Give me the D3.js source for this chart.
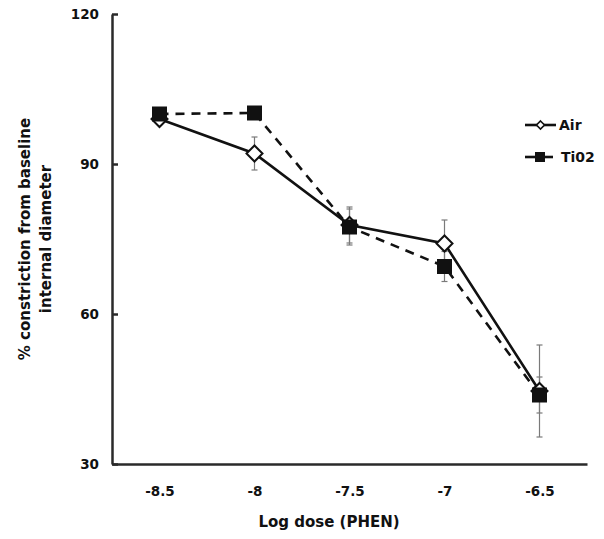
<!DOCTYPE html>
<html><head><meta charset="utf-8">
<script src="https://cdn.jsdelivr.net/npm/d3@7/dist/d3.min.js"></script>
<style>
body{margin:0;background:#fff;}
svg{display:block;font-family:"DejaVu Sans",sans-serif;font-weight:bold;}
</style></head>
<body><svg id="c" width="604" height="539"></svg>
<script>
const doses = ["-8.5","-8","-7.5","-7","-6.5"];
const airMean = [99.0, 92.1, 77.8, 74.1, 44.6];
const airErr  = [0.0, 3.3, 3.6, 4.7, 9.2];
const tiMean  = [100.0, 100.2, 77.4, 69.5, 43.8];
const tiErr   = [0.0, 0.0, 3.6, 3.0, 3.6];
const yTicks  = [30, 60, 90, 120];
const seriesNames = ["Air", "Ti02"];

const svg = d3.select("#c");
const x = d3.scalePoint().domain(doses).range([112, 587]).padding(0.5);
const y = d3.scaleLinear().domain([30, 120]).range([464, 14]);
const axisColor = "#2a2a2a";

// axes
const gy = svg.append("g").attr("transform", "translate(112,0)")
  .call(d3.axisLeft(y).tickValues(yTicks).tickSizeInner(-6).tickSizeOuter(0).tickPadding(13));
gy.select(".domain").attr("stroke", axisColor).attr("stroke-width", 2.5);
gy.selectAll(".tick line").attr("stroke", axisColor).attr("stroke-width", 2.5);
gy.selectAll(".tick text").attr("font-size", 13.5).attr("font-family", "DejaVu Sans").attr("font-weight", "bold").attr("fill", "#111");

const gx = svg.append("g").attr("transform", "translate(0,464)")
  .call(d3.axisBottom(x).tickSize(0).tickPadding(22));
gx.select(".domain").attr("stroke", axisColor).attr("stroke-width", 2.5);
gx.selectAll(".tick text").attr("font-size", 13.5).attr("font-family", "DejaVu Sans").attr("font-weight", "bold").attr("fill", "#111");

// axis titles
svg.append("text").attr("x", 329).attr("y", 527).attr("text-anchor", "middle")
  .attr("font-size", 15).attr("fill", "#111").text("Log dose (PHEN)");
const yt = svg.append("text").attr("transform", "translate(30,239) rotate(-90)")
  .attr("text-anchor", "middle").attr("font-size", 15).attr("fill", "#111");
yt.append("tspan").attr("x", 0).attr("y", 0).text("% constriction from baseline");
yt.append("tspan").attr("x", 0).attr("y", 21).text("internal diameter");

// error bars
function errBars(mean, err) {
  const g = svg.append("g").attr("stroke", "#7a7a7a").attr("stroke-width", 1.2);
  doses.forEach((d, i) => {
    if (!err[i]) return;
    const cx = x(d), y1 = y(mean[i] + err[i]), y2 = y(mean[i] - err[i]);
    g.append("line").attr("x1", cx).attr("x2", cx).attr("y1", y1).attr("y2", y2);
    g.append("line").attr("x1", cx - 3).attr("x2", cx + 3).attr("y1", y1).attr("y2", y1);
    g.append("line").attr("x1", cx - 3).attr("x2", cx + 3).attr("y1", y2).attr("y2", y2);
  });
}
errBars(airMean, airErr);
errBars(tiMean, tiErr);

const line = d3.line().x((v, i) => x(doses[i])).y(v => y(v));
svg.append("path").datum(tiMean).attr("d", line).attr("fill", "none")
  .attr("stroke", "#111").attr("stroke-width", 2.6).attr("stroke-dasharray", "9,7");
svg.append("path").datum(airMean).attr("d", line).attr("fill", "none")
  .attr("stroke", "#111").attr("stroke-width", 2.6);

const diamond = r => `M0,${-r}L${r},0L0,${r}L${-r},0Z`;
svg.append("g").selectAll("path").data(airMean).join("path")
  .attr("transform", (v, i) => `translate(${x(doses[i])},${y(v)})`)
  .attr("d", diamond(8)).attr("fill", "#fff").attr("stroke", "#111").attr("stroke-width", 2);
svg.append("g").selectAll("rect").data(tiMean).join("rect")
  .attr("x", (v, i) => x(doses[i]) - 7.5).attr("y", v => y(v) - 7.5)
  .attr("width", 15).attr("height", 15).attr("fill", "#111");

// legend
const lg = svg.append("g");
const legY = [125, 157];
lg.append("line").attr("x1", 525).attr("x2", 556).attr("y1", legY[0]).attr("y2", legY[0]).attr("stroke", "#111").attr("stroke-width", 2.6);
lg.append("path").attr("transform", `translate(540.5,${legY[0]})`).attr("d", diamond(4)).attr("fill", "#fff").attr("stroke", "#111").attr("stroke-width", 1.6);
lg.append("text").attr("x", 559).attr("y", legY[0] + 5).attr("font-size", 14).attr("fill", "#111").text(seriesNames[0]);
lg.append("line").attr("x1", 525).attr("x2", 553).attr("y1", legY[1]).attr("y2", legY[1]).attr("stroke", "#111").attr("stroke-width", 2.6);
lg.append("rect").attr("x", 535).attr("y", legY[1] - 5).attr("width", 10).attr("height", 10).attr("fill", "#111");
lg.append("text").attr("x", 561).attr("y", legY[1] + 5).attr("font-size", 14).attr("fill", "#111").text(seriesNames[1]);
</script>
</body></html>
